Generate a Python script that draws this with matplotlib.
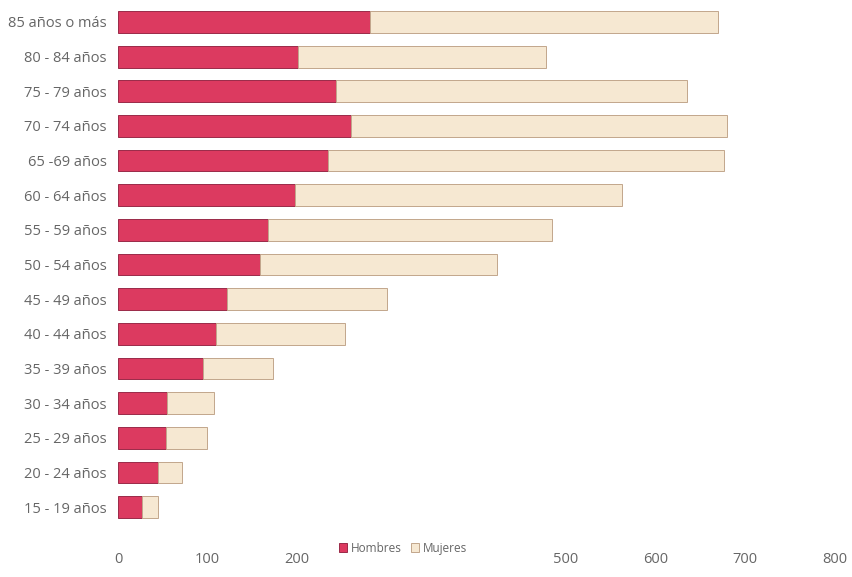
import matplotlib.pyplot as plt
import numpy as np

# age groups, bottom to top
grupos = ['15 - 19 años', '20 - 24 años', '25 - 29 años', '30 - 34 años',
          '35 - 39 años', '40 - 44 años', '45 - 49 años', '50 - 54 años',
          '55 - 59 años', '60 - 64 años', '65 -69 años', '70 - 74 años',
          '75 - 79 años', '80 - 84 años', '85 años o más']
hombres = [27, 45, 54, 55, 95, 109, 122, 158, 167, 198, 234, 260, 243, 201, 281]
mujeres = [18, 26, 45, 52, 78, 144, 178, 265, 317, 364, 442, 419, 392, 277, 388]
xticks = [0, 100, 200, 300, 400, 500, 600, 700, 800]
# 300 and 400 sit under the legend in the original, so no label there
xlabels = ['0', '100', '200', '', '', '500', '600', '700', '800']

plt.rcParams['font.family'] = ['Open Sans', 'DejaVu Sans']

fig = plt.figure(figsize=(8.52, 5.77), dpi=100)
ax = fig.add_axes([0.1385, 0.091, 0.8415, 0.901])

y = np.arange(len(grupos))
h = 0.63
ax.barh(y, hombres, height=h, color='#dc3a60', edgecolor='#9a2a48',
        linewidth=0.7, label='Hombres')
ax.barh(y, mujeres, left=hombres, height=h, color='#f6e8d2', edgecolor='#c2a68c',
        linewidth=0.7, label='Mujeres')

ax.set_xlim(0, 800)
ax.set_ylim(-0.5, len(grupos) - 0.5)
ax.set_xticks(xticks)
ax.set_xticklabels(xlabels)
ax.set_yticks(y)
ax.set_yticklabels(grupos)
ax.tick_params(axis='both', length=0, colors='#666666', labelsize=10.5)
ax.tick_params(axis='x', pad=20)
ax.tick_params(axis='y', pad=8)
for s in ax.spines.values():
    s.set_visible(False)

fig.legend(loc='center', bbox_to_anchor=(0.473, 0.05), ncol=2, frameon=False,
           fontsize=8.5, handlelength=0.7, handleheight=0.7, handletextpad=0.3,
           columnspacing=0.8, labelcolor='#666666')

fig.savefig('out.png', dpi=100)
